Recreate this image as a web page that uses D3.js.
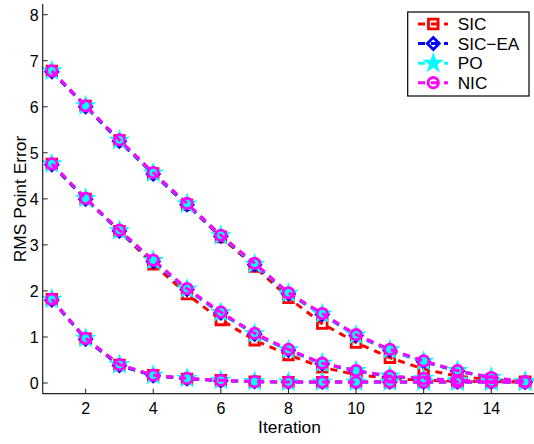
<!DOCTYPE html>
<html>
<head>
<meta charset="utf-8">
<script src="https://cdn.jsdelivr.net/npm/d3@7"></script>
<style>
  body { margin: 0; background: #fff; }
  svg { display: block; font-family: "Liberation Sans", Arial, sans-serif; }
</style>
</head>
<body>
<svg width="534" height="444"></svg>
<script>
// iterations 1..15
const iterations = [1, 2, 3, 4, 5, 6, 7, 8, 9, 10, 11, 12, 13, 14, 15];

// three experiments per method (start error ~6.8, ~4.75, ~1.8)
const sicA   = [6.78, 6.02, 5.27, 4.55, 3.87, 3.17, 2.53, 1.85, 1.29, 0.88, 0.55, 0.30, 0.15, 0.07, 0.03];
const sicB   = [4.76, 4.00, 3.30, 2.58, 1.93, 1.37, 0.93, 0.61, 0.34, 0.18, 0.10, 0.06, 0.04, 0.03, 0.02];
const sicC   = [1.82, 0.96, 0.39, 0.17, 0.09, 0.06, 0.03, 0.02, 0.02, 0.02, 0.02, 0.02, 0.02, 0.02, 0.02];

const sicEaA = [6.76, 6.00, 5.25, 4.54, 3.87, 3.19, 2.57, 1.94, 1.49, 1.03, 0.71, 0.46, 0.26, 0.11, 0.03];
const sicEaB = [4.74, 3.99, 3.30, 2.64, 2.03, 1.52, 1.06, 0.71, 0.42, 0.26, 0.14, 0.09, 0.05, 0.03, 0.02];
const sicEaC = [1.80, 0.95, 0.38, 0.16, 0.09, 0.05, 0.03, 0.02, 0.02, 0.02, 0.02, 0.02, 0.02, 0.02, 0.02];

const poA    = [6.78, 6.02, 5.27, 4.56, 3.89, 3.20, 2.58, 1.95, 1.50, 1.04, 0.72, 0.47, 0.27, 0.12, 0.03];
const poB    = [4.76, 4.01, 3.31, 2.66, 2.04, 1.53, 1.07, 0.72, 0.43, 0.27, 0.15, 0.10, 0.06, 0.03, 0.02];
const poC    = [1.82, 0.97, 0.40, 0.17, 0.10, 0.06, 0.03, 0.02, 0.02, 0.02, 0.02, 0.02, 0.02, 0.02, 0.02];

const nicA   = [6.78, 6.02, 5.28, 4.57, 3.90, 3.21, 2.60, 1.96, 1.51, 1.05, 0.73, 0.48, 0.27, 0.12, 0.03];
const nicB   = [4.76, 4.01, 3.32, 2.67, 2.05, 1.54, 1.08, 0.73, 0.43, 0.27, 0.15, 0.10, 0.06, 0.03, 0.02];
const nicC   = [1.82, 0.97, 0.40, 0.17, 0.10, 0.06, 0.03, 0.02, 0.02, 0.02, 0.02, 0.02, 0.02, 0.02, 0.02];

const seriesNames = ['SIC', 'SIC\u2212EA', 'PO', 'NIC'];
const seriesColors = ['#ff0000', '#0000ff', '#00ffff', '#ff00ff'];
const seriesMarkers = ['square', 'diamond', 'star', 'circle'];
const seriesData = [[sicA, sicB, sicC], [sicEaA, sicEaB, sicEaC], [poA, poB, poC], [nicA, nicB, nicC]];

const xTicks = [2, 4, 6, 8, 10, 12, 14];
const yTicks = [0, 1, 2, 3, 4, 5, 6, 7, 8];

const svg = d3.select('svg');
const xScale = d3.scaleLinear().domain([0.73, 15.27]).range([42.7, 534.2]);
const yScale = d3.scaleLinear().domain([-0.232, 8.23]).range([393.7, 4.1]);

// marker shapes, MATLAB-like
const markerPath = (type) => {
  if (type === 'square') return 'M-4.8,-4.8H4.8V4.8H-4.8Z';
  if (type === 'diamond') return 'M0,-6L6,0L0,6L-6,0Z';
  if (type === 'star') return d3.symbol(d3.symbolStar, 100)();
  return d3.symbol(d3.symbolCircle, Math.PI * 5.2 * 5.2)();
};

const drawMarker = (sel, type, color) => {
  sel.append('path')
    .attr('d', markerPath(type))
    .attr('fill', type === 'star' ? color : 'none')
    .attr('stroke', color)
    .attr('stroke-width', type === 'star' ? 1.2 : 2.8)
    .attr('stroke-linejoin', 'miter');
};

const line = d3.line()
  .x((d, i) => xScale(iterations[i]))
  .y(d => yScale(d));

const plot = svg.append('g');

seriesData.forEach((groups, s) => {
  const g = plot.append('g');
  groups.forEach(vals => {
    g.append('path')
      .attr('d', line(vals))
      .attr('fill', 'none')
      .attr('stroke', seriesColors[s])
      .attr('stroke-width', 3)
      .attr('stroke-dasharray', '7,6');
  });
  groups.forEach(vals => {
    vals.forEach((v, i) => {
      const m = g.append('g')
        .attr('transform', `translate(${xScale(iterations[i])},${yScale(v)})`);
      drawMarker(m, seriesMarkers[s], seriesColors[s]);
    });
  });
});

// axes (left and bottom only, ticks pointing inward)
const axisColor = '#222';
const xAxis = svg.append('g').attr('transform', `translate(0,${yScale.range()[0]})`);
xAxis.append('line')
  .attr('x1', xScale.range()[0]).attr('x2', 534)
  .attr('stroke', axisColor).attr('stroke-width', 1.2);
xAxis.selectAll('.tick').data(xTicks).enter().append('g')
  .attr('transform', d => `translate(${xScale(d)},0)`)
  .each(function(d) {
    const t = d3.select(this);
    t.append('line').attr('y1', 0).attr('y2', -5).attr('stroke', axisColor);
    t.append('text').attr('y', 20.5).attr('text-anchor', 'middle')
      .attr('font-size', 16).attr('fill', '#000').text(d);
  });

const yAxis = svg.append('g').attr('transform', `translate(${xScale.range()[0]},0)`);
yAxis.append('line')
  .attr('y1', yScale.range()[0]).attr('y2', yScale.range()[1])
  .attr('stroke', axisColor).attr('stroke-width', 1.2);
yAxis.selectAll('.tick').data(yTicks).enter().append('g')
  .attr('transform', d => `translate(0,${yScale(d)})`)
  .each(function(d) {
    const t = d3.select(this);
    t.append('line').attr('x1', 0).attr('x2', 5).attr('stroke', axisColor);
    t.append('text').attr('x', -4).attr('y', 5.8).attr('text-anchor', 'end')
      .attr('font-size', 16).attr('fill', '#000').text(d);
  });

svg.append('text')
  .attr('x', 289.5).attr('y', 432.5)
  .attr('text-anchor', 'middle').attr('font-size', 17.4)
  .text('Iteration');

svg.append('text')
  .attr('transform', 'translate(25.8,199) rotate(-90)')
  .attr('text-anchor', 'middle').attr('font-size', 17.4)
  .text('RMS Point Error');

// legend
const legend = svg.append('g');
legend.append('rect')
  .attr('x', 407.7).attr('y', 12).attr('width', 121.3).attr('height', 84)
  .attr('fill', '#fff').attr('stroke', '#000').attr('stroke-width', 1.2);
const rowY = [24, 43.5, 63.2, 82.7];
seriesNames.forEach((name, s) => {
  const row = legend.append('g').attr('transform', `translate(0,${rowY[s]})`);
  row.append('line')
    .attr('x1', 418).attr('x2', 448)
    .attr('stroke', seriesColors[s]).attr('stroke-width', 3)
    .attr('stroke-dasharray', '7,6');
  const m = row.append('g').attr('transform', 'translate(433.3,0)');
  drawMarker(m, seriesMarkers[s], seriesColors[s]);
  row.append('text')
    .attr('x', 457.7).attr('y', 6.2)
    .attr('font-size', 17.2).attr('fill', '#000')
    .text(name);
});
</script>
</body>
</html>
